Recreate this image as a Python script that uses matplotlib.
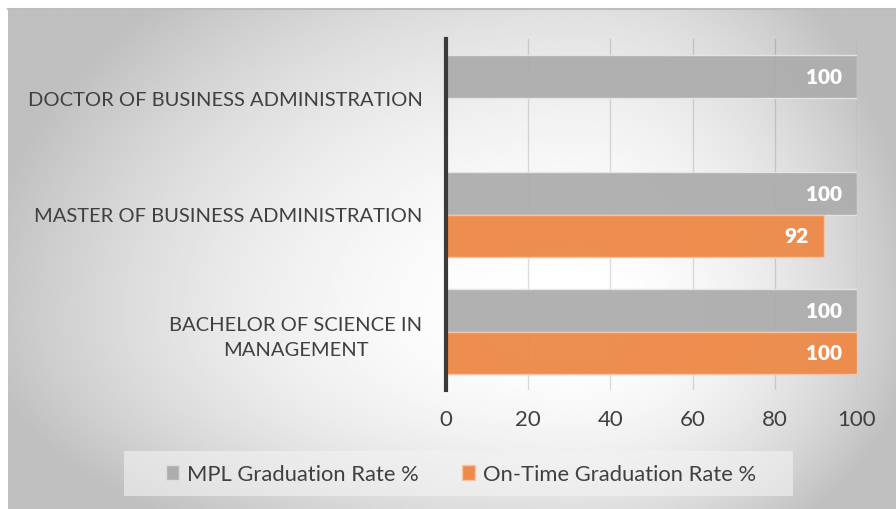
import numpy as np
import matplotlib.pyplot as plt
from matplotlib.patches import Rectangle

plt.rcParams['font.family'] = ['Lato', 'DejaVu Sans']

categories = ['BACHELOR OF SCIENCE IN\nMANAGEMENT',
              'MASTER OF BUSINESS ADMINISTRATION',
              'DOCTOR OF BUSINESS ADMINISTRATION']
mpl_rate = [100, 100, 100]
on_time_rate = [100, 92, None]
series_names = ['MPL Graduation Rate %', 'On-Time Graduation Rate %']
xticks = [0, 20, 40, 60, 80, 100]

gray = '#adadad'
orange = '#ed8b4a'
text_col = '#404040'

fig = plt.figure(figsize=(8.96, 5.10), dpi=100)

# radial gradient background, white a bit right of centre
bg = fig.add_axes([8 / 896, 0, 888 / 896, 500 / 510])
gx, gy = np.meshgrid(np.linspace(0, 1, 450), np.linspace(0, 1, 300))
cx, cy = 0.64, 0.62
nx = np.where(gx < cx, (cx - gx) / cx, (gx - cx) / (1 - cx))
ny = np.where(gy < cy, (cy - gy) / cy, (gy - cy) / (1 - cy)) * 0.75
r = np.sqrt(nx ** 2 + ny ** 2)
shade = np.clip(1.0 - 0.22 * r ** 2, 0.75, 1.0)
bg.imshow(shade, cmap='gray', vmin=0, vmax=1, extent=[0, 1, 0, 1],
          aspect='auto', origin='upper', interpolation='bilinear')
bg.set_xticks([])
bg.set_yticks([])
for s in bg.spines.values():
    s.set_visible(False)
bg.spines['top'].set_visible(True)
bg.spines['top'].set_color('#bdbdbd')
bg.spines['top'].set_linewidth(1.5)

ax = fig.add_axes([446 / 896, 1 - 391 / 510, 411 / 896, 351 / 510])
ax.patch.set_alpha(0)

y = np.arange(len(categories))
h = 0.3675
ax.barh(y + h / 2, mpl_rate, height=h, color=gray, edgecolor='#e6e6e6',
        linewidth=1, alpha=0.95, zorder=2)
ot_y = [yy - h / 2 for yy, v in zip(y, on_time_rate) if v is not None]
ot_v = [v for v in on_time_rate if v is not None]
ax.barh(ot_y, ot_v, height=h, color=orange, edgecolor='#f5c6a5',
        linewidth=1, alpha=0.97, zorder=2)

for yy, v in zip(y, mpl_rate):
    ax.annotate(str(v), (v, yy + h / 2), xytext=(-11, 0), textcoords='offset points',
                ha='right', va='center', color='white', fontsize=15, fontweight='heavy', zorder=4)
for yy, v in zip(ot_y, ot_v):
    ax.annotate(str(v), (v, yy), xytext=(-11, 0), textcoords='offset points',
                ha='right', va='center', color='white', fontsize=15, fontweight='heavy', zorder=4)

ax.set_xlim(0, 100)
ax.set_ylim(-0.5, 2.5)
ax.set_xticks(xticks)
ax.grid(axis='x', color='black', alpha=0.13, linewidth=1, zorder=3)
for s in ['top', 'right', 'bottom']:
    ax.spines[s].set_visible(False)
ax.spines['left'].set_color('#3a3a3a')
ax.spines['left'].set_linewidth(3)
ax.spines['left'].set_zorder(5)

ax.set_yticks(y)
ax.set_yticklabels(categories, multialignment='center', linespacing=1.55)
ax.tick_params(axis='y', length=0, pad=17, labelsize=14.5, labelcolor=text_col)
ax.tick_params(axis='x', length=0, pad=14, labelsize=16, labelcolor=text_col)

# legend box
fig.patches.append(Rectangle((124 / 896, 1 - 497 / 510), 669 / 896, 45 / 510,
                             transform=fig.transFigure, facecolor='#f3f3f3',
                             alpha=0.6, edgecolor='none', zorder=0))
handles = [Rectangle((0, 0), 1, 1, facecolor=gray, edgecolor='#dddddd'),
           Rectangle((0, 0), 1, 1, facecolor=orange, edgecolor='#f5c6a5')]
fig.legend(handles, series_names, loc='center', bbox_to_anchor=(461 / 896, 1 - 475 / 510),
           ncol=2, frameon=False, fontsize=15.8, handlelength=0.6, handleheight=0.7,
           handletextpad=0.35, columnspacing=2.0, labelcolor=text_col)

fig.savefig('out.png', dpi=100)
